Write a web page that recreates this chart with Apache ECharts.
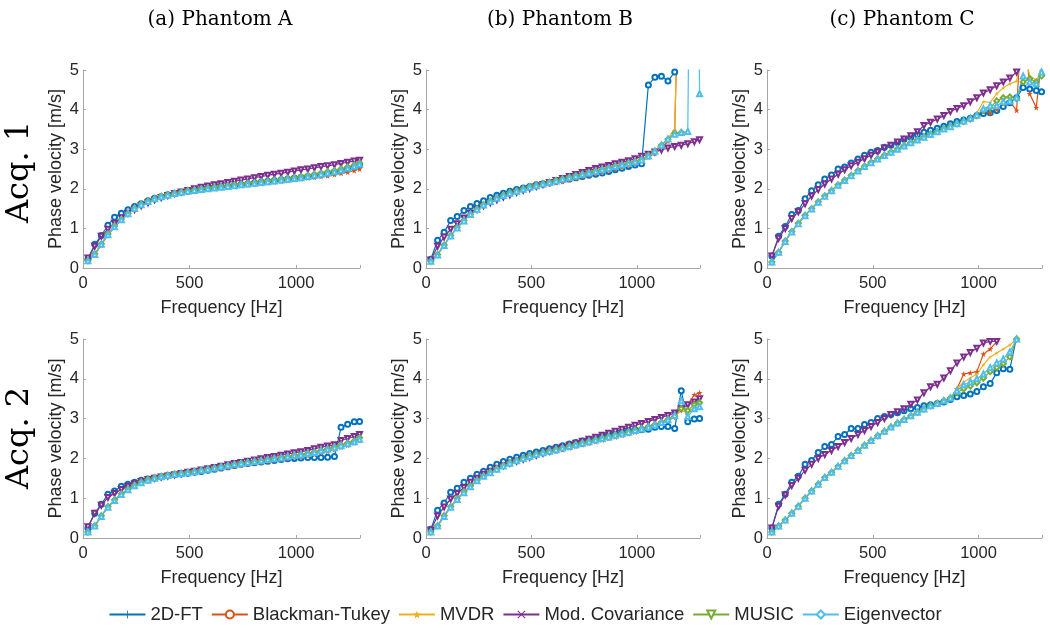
<!DOCTYPE html>
<html>
<head>
<meta charset="utf-8">
<script src="https://cdn.jsdelivr.net/npm/echarts@6/dist/echarts.min.js"></script>
<style>html,body{margin:0;padding:0;background:#fff}#c{width:1050px;height:635px}</style>
</head>
<body>
<div id="c"></div>
<script>
// ---------- data ----------
const freq = [23,55,86,117,148,180,211,242,273,305, 336,367,398,430,461,492,523,555,586,617, 648,680,711,742,773,805,836,867,898,930, 961,992,1023,1055,1086,1117,1148,1180,1211,1242, 1273,1298];
const seriesNames = ['2D-FT','Blackman-Tukey','MVDR','Mod. Covariance','MUSIC','Eigenvector'];
const columnTitles = ['(a) Phantom A','(b) Phantom B','(c) Phantom C'];
const rowTitles = ['Acq. 1','Acq. 2'];
const xTicks = [0,500,1000];
const yTicks = [0,1,2,3,4,5];

// Acq. 1, Phantom A
const a1_ft = [0.22,0.60,0.82,1.08,1.28,1.38,1.47,1.55,1.62,1.70,1.76,1.80,1.85,1.88,1.91,1.94,1.97,1.99,2.01,2.03,2.05,2.07,2.09,2.11,2.13,2.15,2.17,2.19,2.21,2.23,2.25,2.27,2.29,2.31,2.33,2.36,2.39,2.42,2.45,2.50,2.55,2.60];
const a1_bt = [0.17,0.33,0.58,0.83,1.03,1.21,1.37,1.50,1.60,1.68,1.75,1.80,1.85,1.88,1.91,1.93,1.95,1.97,1.99,2.01,2.03,2.05,2.06,2.08,2.10,2.12,2.13,2.15,2.17,2.19,2.21,2.23,2.25,2.27,2.29,2.31,2.33,2.36,2.39,2.42,2.46,2.50];
const a1_mvdr = [0.18,0.35,0.60,0.85,1.05,1.22,1.38,1.50,1.60,1.68,1.75,1.80,1.85,1.88,1.91,1.94,1.96,1.98,2.00,2.02,2.04,2.06,2.08,2.10,2.12,2.14,2.16,2.18,2.20,2.22,2.24,2.26,2.28,2.30,2.33,2.36,2.39,2.42,2.46,2.50,2.55,2.60];
const a1_mc = [0.25,0.55,0.80,0.98,1.13,1.27,1.38,1.48,1.57,1.65,1.72,1.78,1.83,1.88,1.92,1.96,2.00,2.04,2.07,2.10,2.13,2.16,2.19,2.22,2.25,2.28,2.31,2.34,2.37,2.39,2.42,2.45,2.48,2.50,2.53,2.56,2.58,2.61,2.64,2.67,2.70,2.72];
const a1_music = [0.18,0.36,0.61,0.86,1.06,1.23,1.38,1.51,1.61,1.69,1.75,1.81,1.85,1.89,1.92,1.95,1.97,2.00,2.02,2.04,2.06,2.08,2.10,2.12,2.14,2.16,2.18,2.20,2.22,2.24,2.26,2.28,2.31,2.34,2.37,2.40,2.43,2.46,2.50,2.55,2.60,2.65];
const a1_eig = [0.18,0.34,0.60,0.84,1.04,1.22,1.37,1.50,1.60,1.68,1.75,1.80,1.84,1.88,1.91,1.94,1.96,1.98,2.00,2.02,2.04,2.06,2.08,2.10,2.12,2.14,2.16,2.18,2.20,2.22,2.24,2.26,2.28,2.31,2.34,2.37,2.40,2.43,2.47,2.52,2.57,2.62];

// Acq. 1, Phantom B
const b1_ft = [0.22,0.70,0.90,1.20,1.30,1.45,1.55,1.63,1.70,1.78,1.84,1.89,1.94,1.98,2.02,2.06,2.10,2.13,2.16,2.19,2.22,2.25,2.28,2.31,2.34,2.37,2.40,2.44,2.48,2.52,2.56,2.60,2.63,4.62,4.82,4.84,4.72,4.95,6.50,null,null,null];
const b1_bt = [0.17,0.33,0.58,0.82,1.02,1.20,1.36,1.49,1.60,1.69,1.77,1.84,1.90,1.95,2.00,2.03,2.06,2.09,2.12,2.15,2.18,2.22,2.26,2.30,2.34,2.38,2.42,2.46,2.50,2.54,2.58,2.63,2.70,2.80,2.90,3.03,3.20,3.45,10.0,null,null,null];
const b1_mvdr = [0.17,0.34,0.58,0.82,1.02,1.20,1.36,1.49,1.60,1.69,1.77,1.84,1.90,1.95,2.00,2.05,2.09,2.13,2.17,2.21,2.25,2.29,2.33,2.37,2.41,2.45,2.49,2.53,2.57,2.61,2.65,2.69,2.74,2.85,2.96,3.10,3.28,3.50,11.0,null,null,null];
const b1_mc = [0.20,0.55,0.78,0.98,1.12,1.26,1.38,1.48,1.57,1.65,1.72,1.79,1.85,1.91,1.96,2.01,2.06,2.11,2.16,2.21,2.26,2.31,2.36,2.41,2.46,2.51,2.55,2.59,2.63,2.67,2.71,2.76,2.82,2.87,2.93,2.98,3.03,3.07,3.10,3.14,3.19,3.24];
const b1_music = [0.17,0.34,0.58,0.82,1.02,1.20,1.36,1.49,1.60,1.69,1.77,1.84,1.90,1.95,2.00,2.05,2.09,2.13,2.17,2.21,2.25,2.29,2.33,2.37,2.41,2.45,2.49,2.53,2.57,2.61,2.65,2.69,2.74,2.84,2.95,3.10,3.25,3.40,3.42,null,null,null];
const b1_eig = [0.17,0.33,0.57,0.81,1.01,1.19,1.35,1.48,1.59,1.68,1.76,1.83,1.89,1.94,1.99,2.04,2.08,2.12,2.16,2.20,2.24,2.28,2.32,2.36,2.40,2.44,2.48,2.52,2.56,2.60,2.64,2.68,2.73,2.83,2.95,3.10,3.26,3.38,3.42,3.45,20.0,4.40];

// Acq. 1, Phantom C
const c1_ft = [0.30,0.80,1.05,1.35,1.45,1.75,1.95,2.10,2.25,2.35,2.50,2.55,2.65,2.75,2.85,2.92,2.97,3.05,3.10,3.17,3.25,3.30,3.37,3.43,3.48,3.53,3.58,3.64,3.70,3.74,3.78,3.85,3.90,3.92,3.98,4.08,4.17,4.30,4.56,4.52,4.48,4.45];
const c1_bt = [0.15,0.40,0.68,0.92,1.13,1.33,1.50,1.67,1.82,1.96,2.10,2.22,2.34,2.46,2.57,2.67,2.76,2.85,2.93,3.01,3.09,3.17,3.24,3.31,3.38,3.45,3.52,3.58,3.64,3.70,3.76,3.84,3.95,3.92,4.00,4.15,4.20,3.98,7.00,4.40,4.05,5.30];
const c1_mvdr = [0.15,0.40,0.68,0.92,1.13,1.33,1.50,1.67,1.82,1.96,2.10,2.22,2.34,2.46,2.57,2.67,2.76,2.85,2.93,3.01,3.09,3.17,3.24,3.31,3.38,3.45,3.52,3.58,3.64,3.72,3.80,3.92,4.20,4.18,4.40,4.55,4.65,4.72,5.60,4.85,4.75,4.95];
const c1_mc = [0.30,0.75,1.00,1.25,1.42,1.62,1.82,1.98,2.12,2.25,2.37,2.48,2.58,2.67,2.76,2.85,2.93,3.03,3.10,3.18,3.26,3.34,3.44,3.60,3.68,3.76,3.85,3.95,4.03,4.10,4.20,4.30,4.42,4.50,4.60,4.70,4.80,4.95,null,null,null,null];
const c1_music = [0.15,0.40,0.68,0.92,1.13,1.33,1.50,1.67,1.82,1.96,2.10,2.22,2.34,2.46,2.57,2.67,2.76,2.85,2.93,3.01,3.09,3.17,3.24,3.31,3.38,3.45,3.52,3.58,3.64,3.70,3.76,3.84,3.98,4.05,4.22,4.30,4.32,4.28,4.70,4.78,4.70,4.85];
const c1_eig = [0.15,0.40,0.67,0.91,1.12,1.32,1.49,1.66,1.81,1.95,2.09,2.21,2.33,2.45,2.56,2.66,2.75,2.84,2.92,3.00,3.08,3.16,3.23,3.30,3.37,3.44,3.51,3.57,3.64,3.71,3.78,3.86,4.02,4.10,4.10,4.20,4.22,4.30,4.85,4.70,4.65,4.95];

// Acq. 2, Phantom A
const a2_ft = [0.25,0.62,0.85,1.10,1.18,1.30,1.35,1.40,1.45,1.48,1.51,1.54,1.57,1.59,1.61,1.63,1.65,1.67,1.70,1.73,1.76,1.79,1.82,1.85,1.87,1.89,1.91,1.93,1.95,1.97,1.99,2.00,2.01,2.02,2.02,2.02,2.03,2.05,2.78,2.86,2.92,2.93];
const a2_bt = [0.15,0.30,0.55,0.78,0.95,1.10,1.22,1.32,1.40,1.46,1.50,1.54,1.57,1.60,1.62,1.64,1.66,1.68,1.70,1.72,1.74,1.77,1.80,1.83,1.85,1.88,1.90,1.92,1.95,1.97,1.99,2.02,2.04,2.07,2.10,2.14,2.18,2.22,2.28,2.33,2.39,2.45];
const a2_mvdr = [0.15,0.30,0.55,0.78,0.95,1.10,1.22,1.32,1.40,1.46,1.50,1.54,1.57,1.60,1.62,1.65,1.67,1.70,1.73,1.76,1.79,1.82,1.85,1.88,1.90,1.93,1.95,1.97,2.00,2.02,2.05,2.08,2.10,2.13,2.16,2.20,2.24,2.28,2.33,2.38,2.43,2.50];
const a2_mc = [0.28,0.62,0.82,1.02,1.12,1.22,1.30,1.36,1.42,1.47,1.50,1.53,1.56,1.59,1.62,1.65,1.68,1.71,1.74,1.77,1.80,1.84,1.87,1.90,1.93,1.96,1.99,2.02,2.05,2.08,2.11,2.14,2.17,2.20,2.24,2.28,2.31,2.34,2.45,2.50,2.55,2.60];
const a2_music = [0.15,0.31,0.56,0.79,0.96,1.11,1.23,1.33,1.41,1.47,1.51,1.55,1.58,1.61,1.63,1.65,1.67,1.70,1.73,1.76,1.79,1.82,1.85,1.88,1.90,1.93,1.95,1.97,2.00,2.02,2.05,2.08,2.10,2.13,2.16,2.20,2.24,2.29,2.34,2.39,2.44,2.52];
const a2_eig = [0.15,0.30,0.54,0.77,0.94,1.09,1.21,1.31,1.39,1.45,1.50,1.54,1.57,1.60,1.62,1.64,1.67,1.70,1.73,1.76,1.79,1.82,1.85,1.87,1.90,1.92,1.94,1.97,1.99,2.01,2.04,2.07,2.09,2.12,2.15,2.19,2.23,2.27,2.32,2.37,2.42,2.48];

// Acq. 2, Phantom B
const b2_ft = [0.22,0.70,0.88,1.15,1.25,1.40,1.50,1.60,1.68,1.78,1.85,1.92,1.98,2.03,2.08,2.12,2.16,2.20,2.24,2.28,2.32,2.36,2.40,2.44,2.48,2.52,2.56,2.60,2.64,2.67,2.70,2.72,2.72,2.73,2.78,2.80,2.80,2.75,3.70,2.92,2.99,3.00];
const b2_bt = [0.15,0.30,0.55,0.78,0.98,1.15,1.30,1.45,1.56,1.65,1.74,1.82,1.89,1.95,2.01,2.05,2.09,2.12,2.15,2.18,2.22,2.26,2.30,2.34,2.38,2.42,2.46,2.50,2.54,2.58,2.62,2.66,2.71,2.77,2.83,2.90,2.98,3.10,3.45,3.35,3.60,3.65];
const b2_mvdr = [0.15,0.30,0.55,0.78,0.98,1.15,1.30,1.45,1.56,1.65,1.74,1.82,1.89,1.95,2.01,2.06,2.11,2.15,2.19,2.23,2.27,2.31,2.35,2.39,2.43,2.47,2.51,2.55,2.59,2.63,2.67,2.71,2.75,2.80,2.85,2.90,2.97,3.05,3.20,3.15,3.30,3.25];
const b2_mc = [0.20,0.55,0.78,0.98,1.12,1.27,1.40,1.50,1.60,1.68,1.75,1.82,1.88,1.93,1.98,2.03,2.08,2.13,2.18,2.23,2.28,2.33,2.38,2.43,2.48,2.53,2.58,2.63,2.68,2.73,2.78,2.83,2.88,2.93,2.98,3.03,3.08,3.14,3.25,3.35,3.42,3.50];
const b2_music = [0.15,0.31,0.56,0.79,0.99,1.16,1.31,1.45,1.56,1.65,1.74,1.82,1.89,1.95,2.01,2.06,2.11,2.15,2.19,2.23,2.27,2.31,2.35,2.39,2.43,2.47,2.51,2.55,2.59,2.63,2.67,2.71,2.75,2.80,2.85,2.91,2.98,3.06,3.25,3.20,3.35,3.40];
const b2_eig = [0.15,0.30,0.54,0.77,0.97,1.14,1.29,1.44,1.55,1.64,1.73,1.81,1.88,1.94,2.00,2.05,2.10,2.14,2.18,2.22,2.26,2.30,2.34,2.38,2.42,2.46,2.50,2.54,2.58,2.62,2.66,2.70,2.74,2.79,2.84,2.90,2.97,3.08,3.45,3.05,3.25,3.30];

// Acq. 2, Phantom C
const c2_ft = [0.25,0.85,1.10,1.40,1.55,1.85,1.95,2.15,2.30,2.35,2.55,2.60,2.75,2.75,2.85,2.90,3.00,3.05,3.10,3.15,3.20,3.25,3.28,3.32,3.35,3.38,3.42,3.48,3.55,3.58,3.62,3.68,3.80,3.88,4.15,4.25,4.24,5.05,null,null,null,null];
const c2_bt = [0.15,0.30,0.45,0.62,0.80,1.00,1.18,1.35,1.52,1.65,1.80,1.94,2.07,2.20,2.33,2.45,2.57,2.68,2.79,2.89,2.98,3.07,3.16,3.24,3.32,3.38,3.45,3.52,3.75,4.12,4.15,4.18,4.62,4.75,4.93,null,null,null,null,null,null,null];
const c2_mvdr = [0.15,0.30,0.45,0.62,0.80,1.00,1.18,1.35,1.52,1.65,1.80,1.94,2.07,2.20,2.33,2.45,2.57,2.68,2.79,2.89,2.98,3.07,3.16,3.24,3.32,3.38,3.45,3.52,3.75,3.92,4.02,4.12,4.35,4.55,4.65,4.75,4.85,5.00,null,null,null,null];
const c2_mc = [0.25,0.80,1.08,1.32,1.50,1.70,1.85,2.00,2.10,2.20,2.30,2.40,2.50,2.60,2.70,2.80,2.90,3.00,3.10,3.17,3.25,3.36,3.47,3.65,3.80,3.86,4.02,4.20,4.40,4.55,4.66,4.77,4.90,4.94,4.94,null,null,null,null,null,null,null];
const c2_music = [0.15,0.30,0.45,0.62,0.80,1.00,1.18,1.35,1.52,1.65,1.80,1.94,2.07,2.20,2.33,2.45,2.57,2.68,2.79,2.89,2.98,3.07,3.16,3.24,3.32,3.38,3.45,3.52,3.65,3.75,3.82,3.90,4.02,4.18,4.28,4.38,4.55,5.00,null,null,null,null];
const c2_eig = [0.15,0.30,0.45,0.62,0.80,1.00,1.18,1.35,1.52,1.65,1.80,1.94,2.07,2.20,2.33,2.45,2.57,2.68,2.79,2.89,2.98,3.07,3.16,3.24,3.32,3.38,3.45,3.52,3.70,3.85,3.92,4.00,4.12,4.28,4.40,4.50,4.68,5.00,null,null,null,null];

const panelData = [
  [a1_ft,a1_bt,a1_mvdr,a1_mc,a1_music,a1_eig],
  [b1_ft,b1_bt,b1_mvdr,b1_mc,b1_music,b1_eig],
  [c1_ft,c1_bt,c1_mvdr,c1_mc,c1_music,c1_eig],
  [a2_ft,a2_bt,a2_mvdr,a2_mc,a2_music,a2_eig],
  [b2_ft,b2_bt,b2_mvdr,b2_mc,b2_music,b2_eig],
  [c2_ft,c2_bt,c2_mvdr,c2_mc,c2_music,c2_eig]
];

// ---------- styling ----------
const colors = ['#0072BD','#D95319','#EDB120','#7E2F8E','#77AC30','#4DBEEE'];
const STAR = 'path://M0,-10L2.35,-3.24L9.51,-3.09L3.8,1.24L5.88,8.09L0,4L-5.88,8.09L-3.8,1.24L-9.51,-3.09L-2.35,-3.24Z';
const PLUS = 'path://M-1,-10H1V-1H10V1H1V10H-1V1H-10V-1H-1Z';
const CROSS = 'path://M-8,-6.6L-6.6,-8L0,-1.4L6.6,-8L8,-6.6L1.4,0L8,6.6L6.6,8L0,1.4L-6.6,8L-8,6.6L-1.4,0Z';
const legendSym = [PLUS,'emptyCircle',STAR,CROSS,'emptyTriangle','emptyDiamond'];
const legendRot = [0,0,0,0,180,0];
const plotSym = ['emptyCircle',STAR,STAR,'emptyTriangle','emptyDiamond','emptyTriangle'];
const plotRot = [0,0,0,180,0,0];
const plotSize = [5,6,4,5,5,5];

const SANS = '"Liberation Sans", Arial, Helvetica, sans-serif';
const SERIF = '"DejaVu Serif", serif';
const TXT = '#262626';
const AX = '#a6a6a6';

const gridPos = [
  {left:83, top:70, width:277, height:198},
  {left:426, top:70, width:274, height:198},
  {left:767, top:70, width:275, height:198},
  {left:83, top:339, width:277, height:199},
  {left:426, top:339, width:274, height:199},
  {left:767, top:339, width:275, height:199}
];

const xAxes = gridPos.map((g,i)=>({
  gridIndex:i, type:'value', min:0, max:1300, interval:500,
  name:'Frequency [Hz]', nameLocation:'middle', nameGap:31,
  nameTextStyle:{fontSize:18, color:TXT, fontFamily:SANS},
  axisLine:{show:true, lineStyle:{color:AX, width:1}},
  axisTick:{show:true, inside:true, length:3, lineStyle:{color:AX}},
  axisLabel:{fontSize:16.5, color:TXT, fontFamily:SANS, margin:7,
    formatter:v => xTicks.indexOf(v) >= 0 ? String(v) : ''},
  splitLine:{show:false}
}));
const yAxes = gridPos.map((g,i)=>({
  gridIndex:i, type:'value', min:0, max:5, interval:1,
  name:'Phase velocity [m/s]', nameLocation:'middle', nameGap:18,
  nameTextStyle:{fontSize:18, color:TXT, fontFamily:SANS},
  axisLine:{show:true, lineStyle:{color:AX, width:1}},
  axisTick:{show:true, inside:true, length:3, lineStyle:{color:AX}},
  axisLabel:{fontSize:16.5, color:TXT, fontFamily:SANS, margin:4,
    formatter:v => yTicks.indexOf(v) >= 0 ? String(v) : ''},
  splitLine:{show:false}
}));

const series = [];
panelData.forEach((arrs,p)=>{
  arrs.forEach((arr,j)=>{
    series.push({
      type:'line', name:seriesNames[j], xAxisIndex:p, yAxisIndex:p,
      symbol:legendSym[j], symbolRotate:legendRot[j], symbolSize:5,
      showSymbol:true, showAllSymbol:true, clip:true,
      lineStyle:{color:colors[j], width:1.2},
      itemStyle:{color:colors[j], borderWidth:1},
      emphasis:{disabled:true},
      data:freq.map((f,i)=>({value:[f, arr[i]], symbol:plotSym[j], symbolRotate:plotRot[j], symbolSize:plotSize[j]}))
    });
  });
});

const graphics = [];
const colCenters = [220,560,902];
columnTitles.forEach((t,i)=>graphics.push({type:'text', x:colCenters[i], y:20,
  style:{text:t, font:'20px '+SERIF, fill:'#000', align:'center', verticalAlign:'middle'}}));
const rowCenters = [172,438];
rowTitles.forEach((t,i)=>graphics.push({type:'text', x:20, y:rowCenters[i], rotation:Math.PI/2,
  style:{text:t, font:'32px '+SERIF, fill:'#000', align:'center', verticalAlign:'middle'}}));

const chart = echarts.init(document.getElementById('c'), null, {renderer:'canvas'});
chart.setOption({
  animation:false,
  backgroundColor:'#fff',
  grid:gridPos,
  xAxis:xAxes,
  yAxis:yAxes,
  legend:{
    data:seriesNames, top:600, left:'center',
    itemWidth:36, itemHeight:10, itemGap:8,
    textStyle:{fontSize:18.5, color:TXT, fontFamily:SANS},
    selectedMode:false
  },
  graphic:graphics,
  series:series
});
</script>
</body>
</html>
